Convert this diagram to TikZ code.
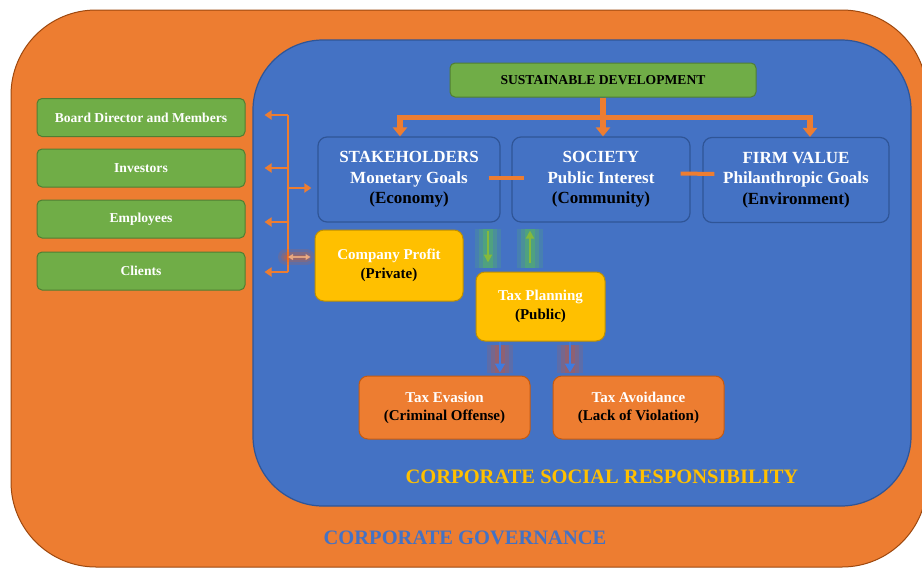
\documentclass[tikz,border=0pt]{standalone}
\usepackage{fontspec}
\setmainfont{Liberation Serif}
\usetikzlibrary{calc}
\usetikzlibrary{positioning}
\usetikzlibrary{arrows.meta}
\definecolor{govorange}{HTML}{ED7D31}
\definecolor{govline}{HTML}{C55A11}
\definecolor{csrblue}{HTML}{4472C4}
\definecolor{csrline}{HTML}{2F5597}
\definecolor{sdgreen}{HTML}{70AD47}
\definecolor{sdline}{HTML}{507E32}
\definecolor{taxyellow}{HTML}{FFC000}
\definecolor{taxline}{HTML}{BF9000}
\definecolor{arrowblue}{HTML}{3F7BE0}
\tikzset{x=1pt, y=-1pt,
  every node/.style={align=center, inner sep=2pt},
  partybox/.style={ % green boxes on the left
    draw=sdline, fill=sdgreen, line width=1pt, rounded corners=5pt,
    minimum width=208pt, minimum height=38pt, text=white,
    font=\bfseries\fontsize{13.6}{16}\selectfont},
  goalbox/.style={ % the three blue goals
    draw=csrline, fill=csrblue, line width=1.2pt, rounded corners=9pt,
    minimum height=85pt, text=white,
    font=\bfseries\fontsize{17}{20.5}\selectfont},
  yellowbox/.style={
    draw=taxline, fill=taxyellow, line width=1pt, rounded corners=9pt,
    text=white, font=\bfseries\fontsize{15}{18.5}\selectfont},
  orangebox/.style={
    draw=govline, fill=govorange, line width=1pt, rounded corners=9pt,
    minimum width=171pt, minimum height=63pt, text=white,
    font=\bfseries\fontsize{15}{18}\selectfont},
  treeline/.style={draw=govorange, line width=5.5pt},
  treearrow/.style={treeline, -{Triangle[width=14pt,length=9pt]}},
  busarrow/.style={draw=govorange, line width=2.2pt,
    -{Triangle[width=9pt,length=7pt]}},
  greenarrow/.style={draw=sdgreen!85!yellow, line width=2pt,
    -{Triangle[width=8pt,length=8pt]}},
  bluearrow/.style={draw=arrowblue, line width=2.2pt,
    -{Triangle[width=10pt,length=9pt]}},
}

\begin{document}
\begin{tikzpicture}
  \useasboundingbox (0,0) rectangle (922,568);
  \fill[white] (0,0) rectangle (922,568);

  % corporate governance and CSR areas
  \begin{scope}
    \clip (0,0) rectangle (922,568);
    \draw[govline!80!black, fill=govorange, line width=1pt, rounded corners=85pt]
      (11,10) rectangle (927,567);
  \end{scope}
  \draw[csrline, fill=csrblue, line width=1.2pt, rounded corners=70pt]
    (253,40) rectangle (911,506);

  \node [text=taxyellow, font=\bfseries\fontsize{20.5}{24}\selectfont]
    (csr) at (602,477) {CORPORATE SOCIAL RESPONSIBILITY};
  \node [text=csrblue, font=\bfseries\fontsize{20.5}{24}\selectfont]
    (cg) at (465,538) {CORPORATE GOVERNANCE};

  % parties
  \node [partybox] (board) at (141,117.5) {Board Director and Members};
  \node [partybox] (investors) at (141,168) {Investors};
  \node [partybox] (employees) at (141,219) {Employees};
  \node [partybox] (clients) at (141,271) {Clients};

  % goals
  \node [draw=sdline, fill=sdgreen, line width=1pt, rounded corners=5pt,
    minimum width=306pt, minimum height=34pt,
    font=\bfseries\fontsize{13.6}{16}\selectfont] (sd) at (603,80)
    {SUSTAINABLE DEVELOPMENT};
  \node [goalbox, minimum width=182pt] (stake) at (409,179.5) {
    STAKEHOLDERS\\ Monetary Goals\\ \textcolor{black}{(Economy)}};
  \node [goalbox, minimum width=178pt] (society) at (601,179.5) {
    SOCIETY\\ Public Interest\\ \textcolor{black}{(Community)}};
  \node [goalbox, minimum width=186pt] (firm) at (796,180) {
    FIRM VALUE\\ Philanthropic Goals\\ \textcolor{black}{(Environment)}};

  % taxes
  \node [yellowbox, minimum width=148pt, minimum height=71pt]
    (profit) at (389,265.5) {Company Profit\\ \textcolor{black}{(Private)}};
  \node [yellowbox, minimum width=129pt, minimum height=69pt]
    (planning) at (540.5,306.5) {Tax Planning\\ \textcolor{black}{(Public)}};
  \node [orangebox] (evasion) at (444.5,407.5) {
    Tax Evasion\\ \textcolor{black}{(Criminal Offense)}};
  \node [orangebox] (avoidance) at (638.5,407.5) {
    Tax Avoidance\\ \textcolor{black}{(Lack of Violation)}};

  % tree from sustainable development
  \coordinate (fork) at ($(sd.south)+(0,20)$);
  \draw [treeline] (sd.south) -- (fork);
  \draw [treeline, line cap=rect]
    ([xshift=-9pt]fork -| stake.north) -- ([xshift=14pt]fork -| firm.north);
  \draw [treearrow] ([xshift=-9pt]fork -| stake.north) -- ([xshift=-9pt]stake.north);
  \draw [treearrow] (fork) -- (sd.south |- society.north);
  \draw [treearrow] ([xshift=14pt]fork -| firm.north) -- ([xshift=14pt]firm.north);

  \draw [govorange, line width=4pt] ([shift={(-12,-2)}]stake.east)
    -- ([shift={(13,-2)}]society.west);
  \draw [govorange, line width=4pt] ([shift={(-10,-6)}]society.east)
    -- ([shift={(12,-6)}]firm.west);

  % bus to the parties
  \coordinate (bustop) at (288,115);
  \coordinate (busbot) at (288,272);
  \draw [govorange, line width=2.2pt] (bustop) -- (busbot);
  \draw [busarrow] (bustop) -- ([xshift=19pt]board.east |- bustop);
  \draw [busarrow] (bustop |- investors) -- ([xshift=19pt]investors.east);
  \draw [busarrow] (bustop |- 0,222) -- ([xshift=19pt]employees.east |- 0,222);
  \draw [busarrow] (busbot) -- ([xshift=19pt]clients.east |- busbot);
  \draw [busarrow] (bustop |- 0,188) -- ([xshift=-6pt]stake.west |- 0,188);
  \foreach \w/\o in {16/0.15, 10/0.18, 5/0.22}
    \draw [orange!70!red, line width=\w pt, opacity=\o, line cap=round]
      ([xshift=-2pt]bustop |- 0,257) -- ([xshift=-8pt]profit.west |- 0,257);
  \draw [govorange!60!white, line width=1.5pt, opacity=0.8,
    {Triangle[width=6pt,length=5pt]}-{Triangle[width=6pt,length=5pt]}]
    (bustop |- 0,257) -- ([xshift=-4pt]profit.west |- 0,257);

  % planning links
  \foreach \w/\o in {26/0.1, 18/0.13, 10/0.16} {
    \draw [green!60!yellow, line width=\w pt, opacity=\o]
      ([shift={(79,6)}]stake.south) -- ([shift={(-52.5,-4)}]planning.north);
    \draw [green!60!yellow, line width=\w pt, opacity=\o]
      ([shift={(-71,6)}]society.south) -- ([shift={(-10.5,-4)}]planning.north);
    \draw [orange!60!red, line width=\w pt, opacity=\o+0.03]
      ([shift={(-40.5,3)}]planning.south) -- ([shift={(55.5,-3)}]evasion.north);
    \draw [orange!60!red, line width=\w pt, opacity=\o+0.03]
      ([shift={(29.5,3)}]planning.south) -- ([shift={(-68.5,-3)}]avoidance.north);
  }
  \draw [greenarrow] ([shift={(79,8)}]stake.south) -- ([shift={(-52.5,-9)}]planning.north);
  \draw [greenarrow] ([shift={(-10.5,-9)}]planning.north) -- ([shift={(-71,8)}]society.south);
  \draw [bluearrow] ([xshift=-40.5pt]planning.south) -- ([shift={(55.5,-3)}]evasion.north);
  \draw [bluearrow] ([xshift=29.5pt]planning.south) -- ([shift={(-68.5,-3)}]avoidance.north);
\end{tikzpicture}
\end{document}
